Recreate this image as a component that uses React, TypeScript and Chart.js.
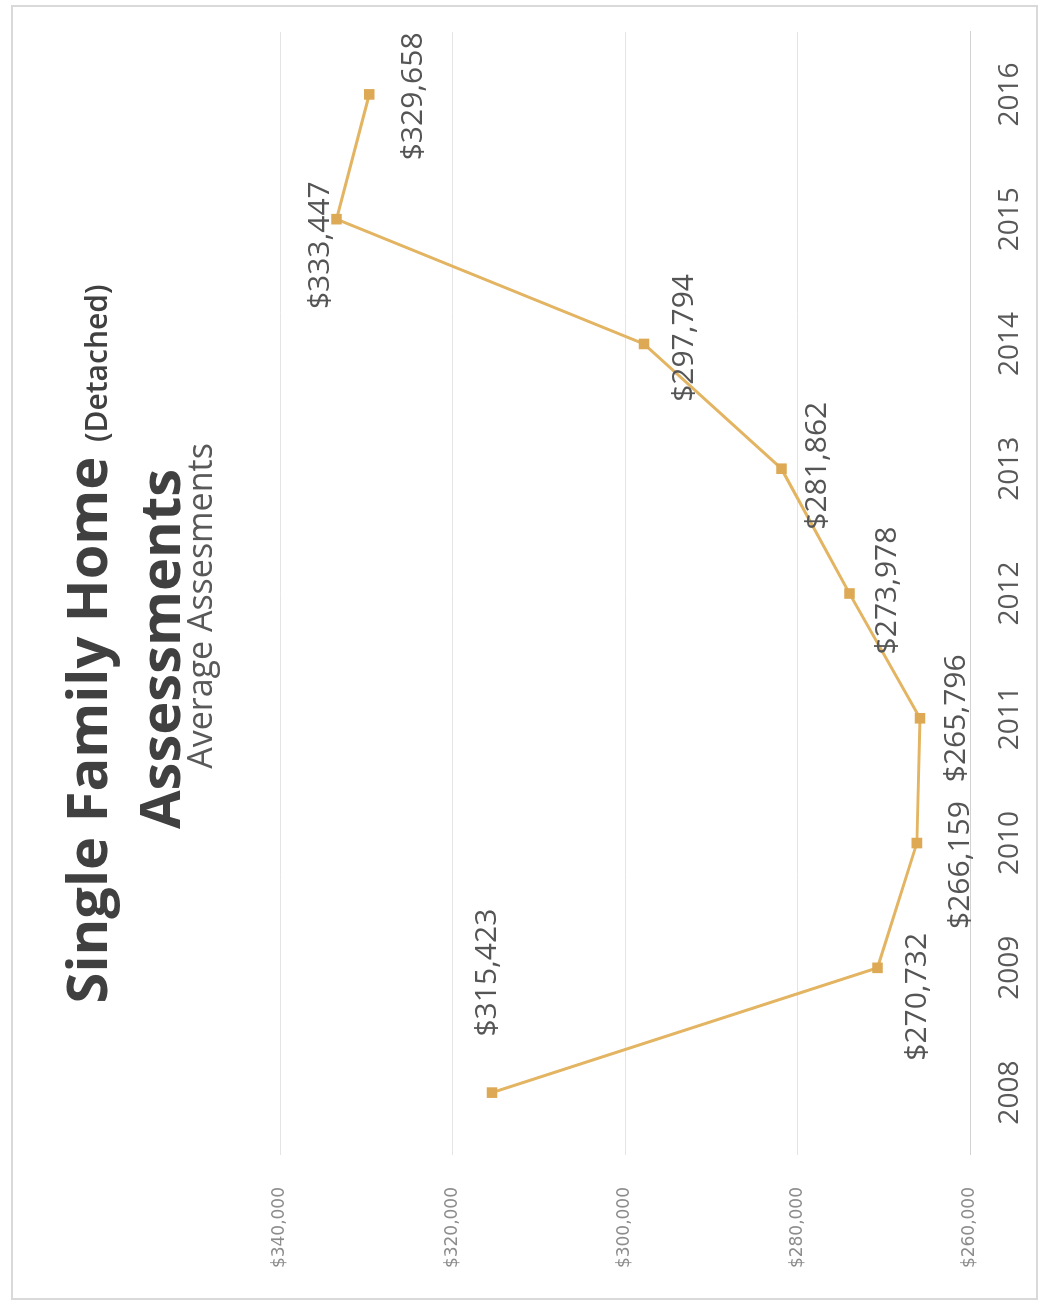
import React, { useEffect, useRef } from "react";
import { Chart, registerables } from "chart.js";

Chart.register(...registerables);

// ---- data ----
const years = ["2008", "2009", "2010", "2011", "2012", "2013", "2014", "2015", "2016"];
const assessments = [315423, 270732, 266159, 265796, 273978, 281862, 297794, 333447, 329658];
const valueMin = 260000;
const valueMax = 340000;
const valueStep = 20000;
const titleMain = "Single Family Home";
const titleNote = "(Detached)";
const titleLine2 = "Assessments";
const subtitle = "Average Assesments";

// label placement (offset from the point, in chart pixels) – styling only
const labelOffsets: [number, number][] = [
  [120, -5],
  [-29, 40],
  [-22, 44],
  [0, 36],
  [3, 38],
  [3, 36],
  [6, 40],
  [-26, -16],
  [-2, 44],
];

const W = 1295;
const H = 1027;
const LINE = "#E3B461";
const POINT = "#DDA954";

const fmt = (v: number) => "$" + Math.round(v).toLocaleString("en-US");

const framePlugin = {
  id: "frame",
  beforeDraw(chart: any) {
    const ctx = chart.ctx;
    ctx.save();
    ctx.fillStyle = "#ffffff";
    ctx.fillRect(0, 0, chart.width, chart.height);
    ctx.strokeStyle = "#d9d9d9";
    ctx.lineWidth = 2;
    ctx.strokeRect(1, 1, chart.width - 2, chart.height - 2);
    ctx.restore();
  },
};

const titlePlugin = {
  id: "titleBlock",
  afterDraw(chart: any) {
    const ctx = chart.ctx;
    ctx.save();
    ctx.textBaseline = "alphabetic";
    ctx.fillStyle = "#404040";
    const f1 = "bold 56px 'Open Sans'";
    const f1b = "600 30px 'Open Sans'";
    ctx.font = f1;
    const w1 = ctx.measureText(titleMain + " ").width;
    ctx.font = f1b;
    const w2 = ctx.measureText(titleNote).width;
    const cx1 = 656;
    const start = cx1 - (w1 + w2) / 2;
    ctx.textAlign = "left";
    ctx.font = f1;
    ctx.fillText(titleMain + " ", start, 96);
    ctx.font = f1b;
    ctx.fillText(titleNote, start + w1, 96);
    ctx.textAlign = "center";
    ctx.font = f1;
    ctx.fillText(titleLine2, 651, 169);
    ctx.fillStyle = "#595959";
    ctx.font = "34px 'Open Sans'";
    ctx.fillText(subtitle, 694, 201);
    ctx.restore();
  },
};

const dataLabelPlugin = {
  id: "pointLabels",
  afterDatasetsDraw(chart: any) {
    const ctx = chart.ctx;
    const meta = chart.getDatasetMeta(0);
    const ds = chart.data.datasets[0];
    ctx.save();
    ctx.font = "30px 'Open Sans'";
    ctx.fillStyle = "#555555";
    ctx.textAlign = "center";
    ctx.textBaseline = "middle";
    meta.data.forEach((pt: any, i: number) => {
      const [dx, dy] = labelOffsets[i] || [0, 40];
      ctx.fillText(fmt(ds.data[i]), pt.x + dx, pt.y + dy);
    });
    ctx.restore();
  },
};

function RotatedChart() {
  const ref = useRef<HTMLCanvasElement | null>(null);
  useEffect(() => {
    if (!ref.current) return;
    const chart = new Chart(ref.current, {
      type: "line",
      data: {
        labels: years,
        datasets: [
          {
            data: assessments,
            borderColor: LINE,
            backgroundColor: POINT,
            borderWidth: 3,
            pointStyle: "rect",
            pointRadius: 7.5,
            pointBorderWidth: 0,
            pointBackgroundColor: POINT,
            tension: 0,
            fill: false,
          },
        ],
      },
      options: {
        responsive: false,
        animation: false,
        devicePixelRatio: 1,
        layout: { padding: { top: 269, right: 27, left: 0, bottom: 0 } },
        plugins: {
          legend: { display: false },
          title: { display: false },
          tooltip: { enabled: false },
        },
        scales: {
          x: {
            type: "category",
            offset: true,
            grid: { display: false, drawTicks: false },
            border: { display: true, color: "#d2d2d2", width: 1 },
            ticks: {
              font: { family: "'Open Sans'", size: 28 },
              color: "#595959",
              padding: 23,
              maxRotation: 0,
              autoSkip: false,
            },
            afterFit(scale: any) {
              scale.height = 68;
            },
          },
          y: {
            min: valueMin,
            max: valueMax,
            grid: { color: "#e4e4e4", lineWidth: 1, drawTicks: false },
            border: { display: false },
            ticks: {
              stepSize: valueStep,
              font: { family: "'DejaVu Sans'", size: 17 },
              color: "#8c8c8c",
              padding: 32,
              callback: (v: any) => fmt(Number(v)),
            },
            afterFit(scale: any) {
              scale.width = 145;
            },
          },
        },
      },
      plugins: [framePlugin, dataLabelPlugin, titlePlugin],
    } as any);
    return () => chart.destroy();
  }, []);
  return <canvas ref={ref} width={W} height={H} style={{ display: "block", width: W, height: H }} />;
}

export default function App() {
  return (
    <div
      style={{
        position: "absolute",
        left: 0,
        top: 0,
        width: 1042,
        height: 1313,
        overflow: "hidden",
        background: "#ffffff",
      }}
    >
      <div
        style={{
          position: "absolute",
          left: 11,
          top: 5,
          width: W,
          height: H,
          transformOrigin: "0 0",
          transform: `translate(0px, ${W}px) rotate(-90deg)`,
        }}
      >
        <RotatedChart />
      </div>
    </div>
  );
}
